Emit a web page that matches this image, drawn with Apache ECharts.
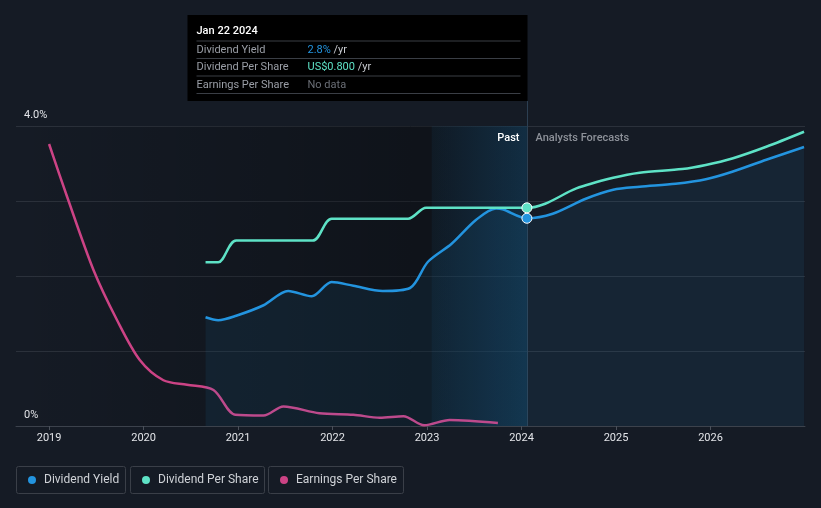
<!DOCTYPE html>
<html><head><meta charset="utf-8">
<script src="https://cdn.jsdelivr.net/npm/echarts@6/dist/echarts.min.js"></script>
<style>html,body{margin:0;padding:0;background:#151b25}#c{width:821px;height:508px}</style>
</head><body><div id="c"></div>
<script>
// ---- data (years as decimal) ----
const yearTicks = [2019, 2020, 2021, 2022, 2023, 2024, 2025, 2026];
const yTickLabels = {0: '0%', 4: '4.0%'};
const NOW = 2024.057; // Jan 22 2024
const highlightStart = 2023.05;

// Dividend Yield (%)
const dividendYield = [
  [2020.656,1.45],[2020.79,1.41],[2020.98,1.47],[2021.27,1.61],[2021.53,1.80],[2021.78,1.73],
  [2021.99,1.92],[2022.22,1.87],[2022.53,1.80],[2022.82,1.84],[2023.01,2.19],[2023.26,2.43],
  [2023.52,2.75],[2023.73,2.90],[2023.80,2.89],[NOW,2.77],[2024.33,2.83],[2024.68,3.03],
  [2024.97,3.15],[2025.25,3.19],[2025.63,3.23],[2025.95,3.29],[2026.23,3.39],[2026.59,3.55],[2026.99,3.72]
];
// Dividend Per Share (US$)
const dividendPerShare = [
  [2020.656,0.60],[2020.79,0.60],[2020.98,0.68],[2021.79,0.68],[2021.99,0.76],[2022.80,0.76],
  [2022.99,0.80],[NOW,0.80],[2024.25,0.815],[2024.58,0.871],[2024.97,0.91],[2025.25,0.929],
  [2025.70,0.942],[2025.95,0.957],[2026.23,0.981],[2026.59,1.024],[2026.99,1.079]
];
// Earnings Per Share (relative scale)
const earningsPerShare = [
  [2019.0,3.76],[2019.19,3.06],[2019.47,2.08],[2019.72,1.41],[2019.96,0.88],[2020.21,0.61],
  [2020.46,0.55],[2020.74,0.48],[2020.97,0.15],[2021.27,0.14],[2021.48,0.26],[2021.86,0.17],
  [2022.22,0.15],[2022.50,0.11],[2022.75,0.13],[2022.97,0.01],[2023.24,0.08],[2023.75,0.04]
];
const legendNames = ['Dividend Yield', 'Dividend Per Share', 'Earnings Per Share'];
const tooltipTitle = 'Jan 22 2024';
const tooltipRows = [
  ['Dividend Yield', '2.8%', ' /yr', 'dy'],
  ['Dividend Per Share', 'US$0.800', ' /yr', 'dps'],
  ['Earnings Per Share', 'No data', '', 'nd']
];

const C_DY = '#2394df', C_DPS = '#5ee2c6', C_EPS = '#cc4385';
const FONT = 'Roboto, "Noto Sans", sans-serif';

const chart = echarts.init(document.getElementById('c'), null, {renderer: 'canvas'});

const option = {
  backgroundColor: '#151b25',
  animation: false,
  textStyle: {fontFamily: FONT},
  grid: {left: 16, right: 16, top: 126, bottom: 82},
  xAxis: {
    type: 'value', min: 2018.65, max: 2027.0,
    splitLine: {show: false},
    axisLine: {lineStyle: {color: '#3c424c', width: 1}},
    axisTick: {show: true, customValues: yearTicks, length: 4, lineStyle: {color: '#4a505a'}},
    axisLabel: {customValues: yearTicks, color: '#e2e4e8', fontSize: 11, margin: 7, formatter: v => String(Math.round(v))}
  },
  yAxis: [
    {
      type: 'value', min: 0, max: 4, interval: 1,
      axisLine: {show: false}, axisTick: {show: false},
      splitLine: {lineStyle: {color: '#2b313b', width: 1}},
      axisLabel: {inside: true, margin: 8, color: '#e2e4e8', fontSize: 11, verticalAlign: 'bottom',
        padding: [0, 0, 5, 0], formatter: v => yTickLabels[v] || ''}
    },
    {type: 'value', min: 0, max: 1.1, show: false, splitLine: {show: false}},
    {type: 'value', min: 0, max: 4, show: false, splitLine: {show: false}}
  ],
  series: [
    {
      name: 'bg', type: 'line', data: [], silent: true, z: 1,
      markArea: {silent: true, data: [
        [{xAxis: 2018.65, itemStyle: {color: {type: 'linear', x: 0, y: 0, x2: 1, y2: 0,
          colorStops: [{offset: 0, color: 'rgba(0,0,0,0)'}, {offset: 1, color: 'rgba(0,0,0,0.38)'}]}}}, {xAxis: NOW}],
        [{xAxis: highlightStart, itemStyle: {color: {type: 'linear', x: 0, y: 0, x2: 1, y2: 0,
          colorStops: [{offset: 0, color: 'rgba(35,148,223,0.06)'}, {offset: 1, color: 'rgba(35,148,223,0.22)'}]}}}, {xAxis: NOW}]
      ]}
    },
    {
      name: legendNames[2], type: 'line', data: earningsPerShare, yAxisIndex: 2, z: 12,
      smooth: 0.3, showSymbol: false,
      lineStyle: {color: C_EPS, width: 2.5}
    },
    {
      name: legendNames[0], type: 'line', data: dividendYield, yAxisIndex: 0, z: 13,
      smooth: 0.3,
      showSymbol: true, symbol: 'circle',
      symbolSize: v => (v[0] === NOW ? 10 : 0),
      itemStyle: {color: C_DY, borderColor: '#ffffff', borderWidth: 1},
      lineStyle: {color: C_DY, width: 2.5},
      areaStyle: {color: 'rgba(35,148,223,0.12)'}
    },
    {
      name: legendNames[1], type: 'line', data: dividendPerShare, yAxisIndex: 1, z: 14,
      smooth: 0.3,
      showSymbol: true, symbol: 'circle',
      symbolSize: v => (v[0] === NOW ? 10 : 0),
      itemStyle: {color: C_DPS, borderColor: '#ffffff', borderWidth: 1},
      lineStyle: {color: C_DPS, width: 2.5}
    }
  ]
};
chart.setOption(option);

// ---- overlay: vertical marker, tooltip box, past/forecast labels, legend ----
const xNow = Math.round(chart.convertToPixel({xAxisIndex: 0}, NOW)) + 0.5;
const yTop = chart.convertToPixel({yAxisIndex: 0}, 4);
const yBottom = chart.convertToPixel({yAxisIndex: 0}, 0);

const tipW = 340, tipX = xNow - tipW, tipY = 15, tipH = 86;
const g = [];
g.push({type: 'line', shape: {x1: xNow, y1: tipY + tipH, x2: xNow, y2: yBottom},
  style: {stroke: '#2c3f52', lineWidth: 1}, z: 2});
g.push({type: 'rect', shape: {x: tipX, y: tipY, width: tipW, height: tipH}, style: {fill: '#000000'}, z: 20});
g.push({type: 'text', x: tipX + 9, y: tipY + 16, z: 21,
  style: {text: tooltipTitle, fill: '#ffffff', font: '500 11px ' + FONT, verticalAlign: 'middle'}});
const lineYs = [41, 58.5, 76, 93.5];
lineYs.forEach(y => g.push({type: 'line', z: 21, shape: {x1: tipX + 9, y1: y, x2: xNow - 7, y2: y},
  style: {stroke: '#3a3e45', lineWidth: 1}}));
tooltipRows.forEach((r, i) => {
  const cy = (lineYs[i] + lineYs[i + 1]) / 2;
  g.push({type: 'text', x: tipX + 9, y: cy, z: 21,
    style: {text: r[0], fill: '#9a9ea6', font: '11px ' + FONT, verticalAlign: 'middle'}});
  g.push({type: 'text', x: tipX + 120, y: cy, z: 21,
    style: {text: '{' + r[3] + '|' + r[1] + '}{u|' + r[2] + '}', verticalAlign: 'middle', font: '11px ' + FONT,
      rich: {
        dy: {fill: C_DY, font: '11px ' + FONT},
        dps: {fill: C_DPS, font: '11px ' + FONT},
        nd: {fill: '#6b6f77', font: '11px ' + FONT},
        u: {fill: '#c8cbd0', font: '11px ' + FONT}
      }}});
});
g.push({type: 'text', x: xNow - 8, y: yTop + 12, z: 12,
  style: {text: 'Past', fill: '#ffffff', font: '500 11px ' + FONT, align: 'right', verticalAlign: 'middle'}});
g.push({type: 'text', x: xNow + 8, y: yTop + 12, z: 12,
  style: {text: 'Analysts Forecasts', fill: '#8d9199', font: '500 11px ' + FONT, align: 'left', verticalAlign: 'middle'}});

// legend
const legColors = [C_DY, C_DPS, C_EPS];
const legBoxes = [[16, 109], [130, 134], [268, 135]];
legendNames.forEach((n, i) => {
  const [bx, bw] = legBoxes[i];
  g.push({type: 'rect', shape: {x: bx + 0.5, y: 466.5, width: bw, height: 27, r: 2},
    style: {fill: 'transparent', stroke: '#3a3f48', lineWidth: 1}, z: 10});
  g.push({type: 'circle', shape: {cx: bx + 16, cy: 480, r: 4}, style: {fill: legColors[i]}, z: 11});
  g.push({type: 'text', x: bx + 28, y: 480, z: 11,
    style: {text: n, fill: '#cfd2d7', font: '12px ' + FONT, verticalAlign: 'middle'}});
});
chart.setOption({graphic: g});
</script></body></html>
